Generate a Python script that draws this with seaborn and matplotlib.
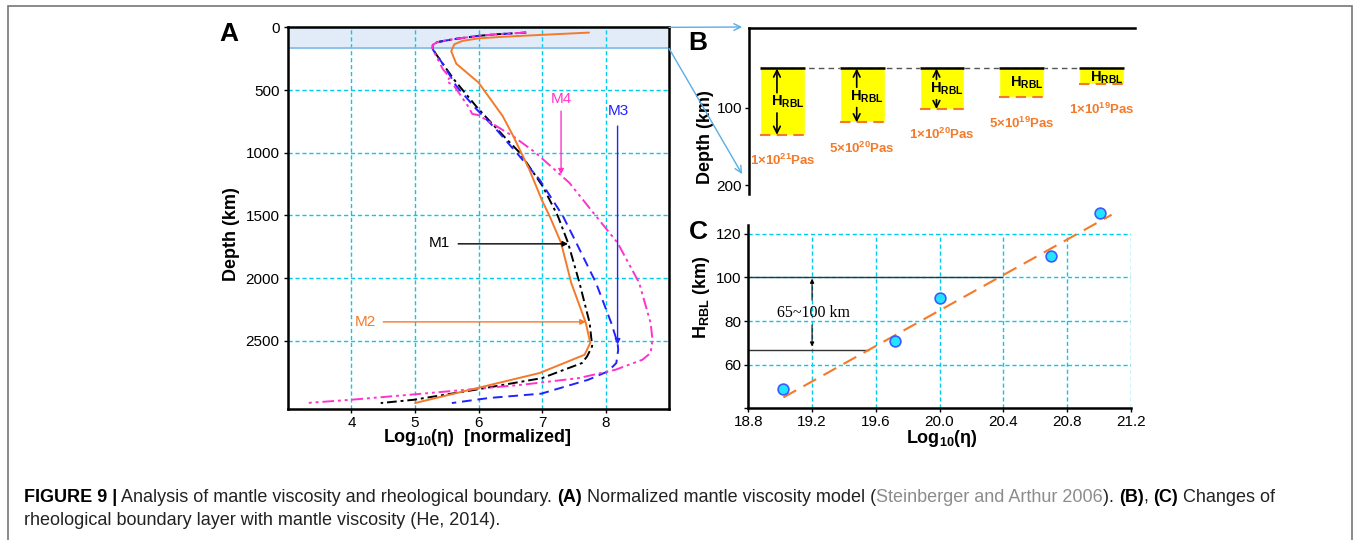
import numpy as np
import pandas as pd
import matplotlib.pyplot as plt
import seaborn as sns
from matplotlib.patches import ConnectionPatch, Rectangle

# ---- Panel A: normalized viscosity profiles, log10(eta) vs depth (km)
m1_eta = [6.75, 6.3, 6.0, 5.6, 5.35, 5.28, 5.28, 5.45, 5.62, 5.80, 5.98, 6.20, 6.42, 6.65, 7.01,
          7.25, 7.41, 7.59, 7.75, 7.79, 7.71, 7.63, 7.0, 5.95, 4.98, 4.46]
m1_depth = [42, 55, 68, 95, 118, 140, 176, 300, 420, 530, 640, 760, 880, 1000, 1266,
            1505, 1718, 2037, 2356, 2542, 2623, 2676, 2796, 2889, 2969, 2995]

m2_eta = [7.74, 7.0, 6.4, 6.0, 5.75, 5.62, 5.57, 5.65, 6.0, 6.38, 6.54, 6.80, 7.0, 7.12,
          7.30, 7.46, 7.69, 7.76, 7.67, 6.96, 5.0]
m2_depth = [42, 60, 75, 88, 108, 135, 190, 290, 440, 707, 860, 1133, 1380, 1505,
            1718, 2037, 2356, 2516, 2610, 2756, 2995]

m3_eta = [6.75, 6.3, 6.0, 5.6, 5.35, 5.28, 5.28, 5.45, 5.65, 5.97, 6.28, 6.60, 6.96, 7.33,
          7.54, 7.85, 8.09, 8.19, 8.20, 8.17, 8.04, 7.73, 6.99, 6.16, 5.58]
m3_depth = [42, 55, 68, 95, 118, 140, 176, 300, 468, 654, 814, 1000, 1213, 1505,
            1718, 2037, 2356, 2516, 2570, 2676, 2742, 2809, 2920, 2955, 2995]

m4_eta = [6.75, 6.3, 6.0, 5.6, 5.35, 5.28, 5.28, 5.44, 5.55, 5.50, 5.62, 5.85, 5.90, 6.0, 6.28,
          6.55, 6.90, 7.43, 7.85, 8.19, 8.53, 8.71, 8.74, 8.71, 8.58, 8.16, 7.58, 6.69,
          5.12, 3.99, 3.28]
m4_depth = [42, 55, 68, 95, 118, 140, 176, 335, 400, 430, 470, 640, 690, 700, 787,
            870, 1000, 1239, 1505, 1718, 2037, 2356, 2490, 2596, 2650, 2729, 2796, 2849,
            2920, 2969, 2995]

lith_depth = 168  # shaded top layer

# ---- Panel B: rheological boundary layer for each viscosity
visc_labels = [r"$\mathbf{1{\times}10^{21}Pas}$", r"$\mathbf{5{\times}10^{20}Pas}$",
               r"$\mathbf{1{\times}10^{20}Pas}$", r"$\mathbf{5{\times}10^{19}Pas}$",
               r"$\mathbf{1{\times}10^{19}Pas}$"]
rbl_top = 49
rbl_bottom = [135, 119, 102, 87, 70]
hrbl_text_depth = [93, 86, 76, 68, 62]
has_arrows = [True, True, True, False, False]

# ---- Panel C: H_RBL vs log10(viscosity)
log_eta = [19.02, 19.72, 20.0, 20.70, 21.01]
h_rbl = [49, 71, 90.5, 110, 129.5]
fit_x = [19.02, 21.08]
fit_h = [45, 128.7]
range_h = [66.7, 100]
range_x_end = [19.56, 20.40]

sns.set_theme(style="ticks")
plt.rcParams["font.family"] = ["Liberation Sans", "DejaVu Sans"]
plt.rcParams["mathtext.fontset"] = "custom"
plt.rcParams["mathtext.rm"] = "Liberation Sans"
plt.rcParams["mathtext.bf"] = "Liberation Sans:bold"
plt.rcParams["mathtext.it"] = "Liberation Sans:italic"
for k in ["text.color", "axes.labelcolor", "xtick.color", "ytick.color"]:
    plt.rcParams[k] = "black"

cyan = "#00ccee"
grid_ls = (0, (3, 2))
orange = "#f47a2a"
blue = "#2222ff"
magenta = "#ff33cc"

fig = plt.figure(figsize=(13.54, 5.40), dpi=100)
fig.add_artist(Rectangle((0.006, -0.1), 0.9925, 1.089, transform=fig.transFigure,
                         fill=False, edgecolor="#777777", lw=1.2))

# ================= Panel A
axA = fig.add_axes([0.2127, 0.2420, 0.2814, 0.7074])
axA.axhspan(0, lith_depth, color="#e1ecf8", zorder=0)
axA.axhline(lith_depth, color="#7fbde8", lw=1.2, zorder=1)

curves = [(m1_eta, m1_depth, "black", (0, (5, 2, 1.5, 2))),
          (m3_eta, m3_depth, blue, (0, (5, 3))),
          (m4_eta, m4_depth, magenta, (0, (6, 2, 1.5, 2, 1.5, 2))),
          (m2_eta, m2_depth, orange, "-")]
for eta, depth, col, ls in curves:
    sns.lineplot(x=eta, y=depth, sort=False, estimator=None, ax=axA,
                 color=col, linestyle=ls, lw=1.4)

axA.set_xlim(3, 9)
axA.set_ylim(3045, 0)
axA.set_xticks([4, 5, 6, 7, 8])
axA.set_yticks([0, 500, 1000, 1500, 2000, 2500])
axA.grid(True, color=cyan, ls=grid_ls, lw=1)
axA.tick_params(labelsize=11, length=3, width=1, pad=3)
axA.tick_params(axis="x", pad=1.5)
for s in axA.spines.values():
    s.set_linewidth(1.8)
    s.set_color("black")
axA.set_xlabel(r"$\mathbf{Log_{10}(\eta)}$  [normalized]", fontsize=13, fontweight="bold", va="center")
axA.xaxis.set_label_coords(0.496, -0.0745)
axA.set_ylabel("Depth (km)", fontsize=13, fontweight="bold", va="center")
axA.yaxis.set_label_coords(-0.147, 0.459)

arr = dict(arrowstyle="-|>", lw=1, mutation_scale=8, shrinkA=0, shrinkB=0)
axA.text(7.30, 574, "M4", color=magenta, fontsize=11, ha="center", va="center")
axA.annotate("", xy=(7.30, 1173), xytext=(7.30, 668), arrowprops=dict(arr, color=magenta))
axA.text(8.21, 668, "M3", color=blue, fontsize=11, ha="center", va="center")
axA.annotate("", xy=(8.19, 2529), xytext=(8.19, 787), arrowprops=dict(arr, color=blue))
axA.text(5.38, 1718, "M1", color="black", fontsize=11, ha="center", va="center")
axA.annotate("", xy=(7.41, 1726), xytext=(5.68, 1726), arrowprops=dict(arr, color="black"))
axA.text(4.22, 2351, "M2", color=orange, fontsize=11, ha="center", va="center")
axA.annotate("", xy=(7.69, 2348), xytext=(4.50, 2348), arrowprops=dict(arr, color=orange))
fig.text(0.169, 0.937, "A", fontsize=19, fontweight="bold", ha="center", va="center")

# ================= Panel B
axB = fig.add_axes([0.5532, 0.6407, 0.2851, 0.3074])
xb = np.arange(len(rbl_bottom))
bw = 0.56
tops = np.full(len(xb), rbl_top)
axB.hlines(rbl_top, xb[0] - bw / 2, xb[-1] + bw / 2, colors="#555555", linestyles=(0, (4, 3)), lw=1)
axB.bar(xb, np.array(rbl_bottom) - rbl_top, bottom=rbl_top, width=bw, color="#ffff00", zorder=2)
axB.hlines(tops, xb - bw / 2, xb + bw / 2, colors="black", lw=1.8, zorder=3)
axB.hlines(rbl_bottom, xb - bw / 2, xb + bw / 2, colors=orange, linestyles=(0, (5, 3)), lw=1.5, zorder=3)
for i, (bot, ty, lab, ar) in enumerate(zip(rbl_bottom, hrbl_text_depth, visc_labels, has_arrows)):
    axB.text(i + 0.06, ty, r"$\mathbf{H_{RBL}}$", fontsize=10.5, ha="center", va="center", zorder=4)
    axB.text(i, bot + 33, lab, color=orange, fontsize=9.5, ha="center", va="center")
    if ar:
        axB.annotate("", xy=(i - 0.07, rbl_top + 1), xytext=(i - 0.07, ty - 12),
                     arrowprops=dict(arrowstyle="->", lw=1.2, color="black", shrinkA=0, shrinkB=0), zorder=4)
        axB.annotate("", xy=(i - 0.07, bot), xytext=(i - 0.07, ty + 14),
                     arrowprops=dict(arrowstyle="->", lw=1.2, color="black", shrinkA=0, shrinkB=0), zorder=4)
axB.set_xlim(-0.42, 4.42)
axB.set_ylim(211, -2)
axB.set_xticks([])
axB.set_yticks([100, 200])
axB.tick_params(labelsize=11, length=3, width=1, pad=2)
for side in ["right", "bottom"]:
    axB.spines[side].set_visible(False)
for side in ["left", "top"]:
    axB.spines[side].set_linewidth(1.8)
    axB.spines[side].set_color("black")
axB.set_ylabel("Depth (km)", fontsize=13, fontweight="bold", va="center")
axB.yaxis.set_label_coords(-0.114, 0.346)
fig.text(0.5155, 0.920, "B", fontsize=19, fontweight="bold", ha="center", va="center")

# connectors from the shaded layer in A to panel B
for ya, yb in [(0, 1.006), (lith_depth, 0.12)]:
    con = ConnectionPatch(xyA=(9, ya), coordsA=axA.transData, xyB=(-0.018, yb), coordsB=axB.transAxes,
                          arrowstyle="->", color="#5aaee6", lw=1, mutation_scale=12)
    fig.add_artist(con)

# ================= Panel C
axC = fig.add_axes([0.5527, 0.2439, 0.2824, 0.3394])
cx_ticks = [18.8, 19.2, 19.6, 20.0, 20.4, 20.8, 21.2]
cy_ticks = [60, 80, 100, 120]
axC.vlines(cx_ticks[1:], 40, 120, colors=cyan, linestyles=grid_ls, lw=1, zorder=0)
axC.hlines(cy_ticks, 18.8, 21.2, colors=cyan, linestyles=grid_ls, lw=1, zorder=0)
axC.hlines(range_h, 18.8, range_x_end, colors="#333333", lw=1, zorder=1)
sns.lineplot(x=fit_x, y=fit_h, sort=False, estimator=None, ax=axC, color=orange,
             linestyle=(0, (7, 4)), lw=1.5, clip_on=False, zorder=2)
sns.scatterplot(x=log_eta, y=h_rbl, ax=axC, s=60, color="#22e4ff", edgecolor="#3a5cff",
                linewidth=1.2, clip_on=False, zorder=5)
axC.annotate("", xy=(19.2, 99.4), xytext=(19.2, 89.6),
             arrowprops=dict(arrowstyle="-|>", lw=0.8, color="black", mutation_scale=6, shrinkA=0, shrinkB=0))
axC.annotate("", xy=(19.2, 68.3), xytext=(19.2, 78.2),
             arrowprops=dict(arrowstyle="-|>", lw=0.8, color="black", mutation_scale=6, shrinkA=0, shrinkB=0))
axC.text(19.21, 83.6, "65~100 km", family="Liberation Serif", fontsize=11.5, ha="center", va="center")
axC.set_xlim(18.8, 21.2)
axC.set_ylim(40, 124)
axC.set_xticks(cx_ticks)
axC.set_xticklabels([f"{v:.1f}" for v in cx_ticks])
axC.set_yticks([40] + cy_ticks)
axC.set_yticklabels([""] + [str(v) for v in cy_ticks])
axC.tick_params(labelsize=11, length=3, width=1, pad=2)
for side in ["right", "top"]:
    axC.spines[side].set_visible(False)
for side in ["left", "bottom"]:
    axC.spines[side].set_linewidth(1.8)
    axC.spines[side].set_color("black")
axC.set_xlabel(r"$\mathbf{Log_{10}(\eta)}$", fontsize=13, va="center")
axC.xaxis.set_label_coords(0.506, -0.165)
axC.set_ylabel(r"$\mathbf{H_{RBL}}$ (km)", fontsize=13, fontweight="bold", va="center")
axC.yaxis.set_label_coords(-0.122, 0.607)
fig.text(0.5155, 0.570, "C", fontsize=19, fontweight="bold", ha="center", va="center")

# ================= Caption (segments placed one after another)
cap1 = [("FIGURE 9 |", "bold", "black"),
        (" Analysis of mantle viscosity and rheological boundary. ", "normal", "#222222"),
        ("(A)", "bold", "black"),
        (" Normalized mantle viscosity model (", "normal", "#222222"),
        ("Steinberger and Arthur 2006", "normal", "#8c8c8c"),
        ("). ", "normal", "#222222"),
        ("(B)", "bold", "black"),
        (", ", "normal", "#222222"),
        ("(C)", "bold", "black"),
        (" Changes of", "normal", "#222222")]
cap2 = [("rheological boundary layer with mantle viscosity (He, 2014).", "normal", "#222222")]
cap_size = 13
renderer = fig.canvas.get_renderer()
for line, ybase in [(cap1, 1 - 502 / 540), (cap2, 1 - 525 / 540)]:
    x = 24 / 1354
    for txt, wt, col in line:
        t = fig.text(x, ybase, txt, fontsize=cap_size, fontweight=wt, color=col,
                     ha="left", va="baseline")
        bb = t.get_window_extent(renderer).transformed(fig.transFigure.inverted())
        x = bb.x1

fig.savefig("out.png", dpi=100)
